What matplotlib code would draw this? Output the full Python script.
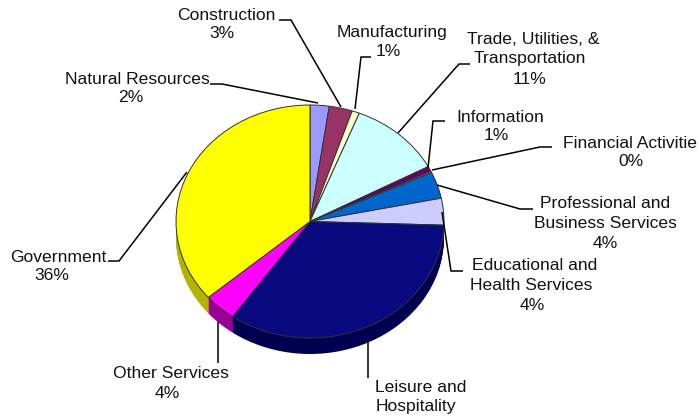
import matplotlib
matplotlib.use('Agg')
from matplotlib import pyplot as plt

plt.rcParams['font.family'] = ['Liberation Sans', 'DejaVu Sans']

# share of each sector, clockwise from 12 o'clock
sectors = ['Natural Resources', 'Construction', 'Manufacturing', 'Trade', 'Information',
           'Financial', 'Professional', 'Educational', 'Leisure', 'Other', 'Government']
shares = [2.3, 2.8, 0.9, 11.2, 0.7, 0.2, 3.7, 3.7, 34.3, 3.9, 36.3]
top_colors = ['#9999ff', '#993366', '#ffffcc', '#ccffff', '#660066', '#ff8080',
              '#0066cc', '#ccccff', '#0a0a80', '#ff00ff', '#ffff00']
side_colors = ['#666699', '#662244', '#999980', '#88aaaa', '#440044', '#aa5555',
               '#004488', '#8888aa', '#000050', '#990099', '#b3b300']

W, H = 698, 418
depth = 16
ry = 116.5

fig = plt.figure(figsize=(W / 100, H / 100), dpi=100)

# axes box is the pie's top ellipse plus the depth of the rim
ax = fig.add_axes([176 / W, 1 - (338 + depth) / H, 268 / W, (233 + depth) / H])
for d in range(depth, 0, -1):
    ax.pie(shares, colors=side_colors, startangle=90, counterclock=False,
           center=(0, -d / ry), radius=1,
           wedgeprops={'linewidth': 0, 'clip_on': False})
ax.pie(shares, colors=top_colors, startangle=90, counterclock=False,
       center=(0, 0), radius=1,
       wedgeprops={'linewidth': 0.7, 'edgecolor': '#333333', 'clip_on': False})
ax.set_aspect('auto')
ax.set_xlim(-1, 1)
ax.set_ylim(-1 - depth / ry, 1)

# overlay in image pixels for labels and leader lines
over = fig.add_axes([0, 0, 1, 1])
over.set_xlim(0, W)
over.set_ylim(H, 0)
over.axis('off')
over.patch.set_alpha(0)

leaders = [
    [(210, 84), (222, 84), (318, 103)],
    [(279, 20), (291, 20), (341, 107)],
    [(371, 57), (361, 57), (355, 109)],
    [(470, 64), (459, 64), (398, 133)],
    [(445, 121), (433, 121), (428, 168)],
    [(552, 147), (540, 147), (432, 170)],
    [(533, 209), (520, 209), (437, 185)],
    [(463, 271), (451, 271), (442, 212)],
    [(368, 378), (368, 340)],
    [(218, 363), (218, 322)],
    [(108, 261), (119, 261), (187, 172)],
]
for pts in leaders:
    over.plot([p[0] for p in pts], [p[1] for p in pts], color='black', lw=1.1,
              solid_capstyle='butt', solid_joinstyle='miter', clip_on=False)

# (text, x, y, ha)
labels = [
    ('Natural Resources', 137, 79, 'center'), ('2%', 131, 97, 'center'),
    ('Construction', 226, 15, 'center'), ('3%', 222, 34, 'center'),
    ('Manufacturing', 392, 32, 'center'), ('1%', 388, 52, 'center'),
    ('Trade, Utilities, &', 533, 39, 'center'), ('Transportation', 530, 59, 'center'),
    ('11%', 530, 79, 'center'),
    ('Information', 500, 118, 'center'), ('1%', 496, 136, 'center'),
    ('Financial Activities', 563, 143, 'left'), ('0%', 631, 161, 'center'),
    ('Professional and', 605, 204, 'center'), ('Business Services', 605, 223, 'center'),
    ('4%', 605, 244, 'center'),
    ('Educational and', 535, 266, 'center'), ('Health Services', 531, 285, 'center'),
    ('4%', 532, 305, 'center'),
    ('Leisure and', 375, 387, 'left'), ('Hospitality', 376, 406, 'left'),
    ('Other Services', 171, 374, 'center'), ('4%', 167, 393, 'center'),
    ('Government', 58, 257, 'center'), ('36%', 52, 275, 'center'),
]
for txt, x, y, ha in labels:
    over.text(x, y, txt, ha=ha, va='center', fontsize=12.6, color='#111111')

fig.savefig('out.png', dpi=100)
